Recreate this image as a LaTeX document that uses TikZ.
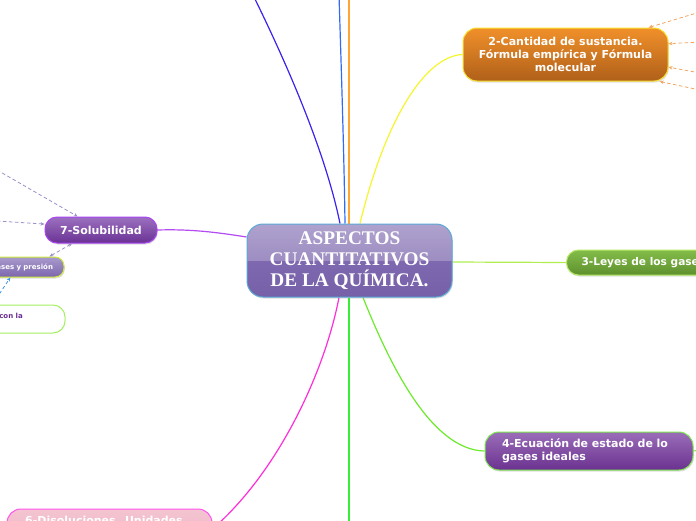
\documentclass[tikz,border=0pt]{standalone}
\usepackage{fontspec}
\setmainfont{Liberation Serif}
\newfontfamily\vb{DejaVu Sans}
\usetikzlibrary{shadows,arrows.meta,backgrounds,calc}
\definecolor{cBorder}{HTML}{5AA9D6}
\definecolor{cLight}{HTML}{AFA2CE}
\definecolor{cLightB}{HTML}{9D8DC2}
\definecolor{cDarkB}{HTML}{7E69B0}
\definecolor{cDark}{HTML}{7660A8}
\pgfdeclareverticalshading{centergloss}{100bp}{color(0bp)=(cDark); color(25bp)=(cDark); color(50bp)=(cDarkB); color(50bp)=(cLightB); color(75bp)=(cLight); color(100bp)=(cLight)}
\definecolor{nTwoTop}{HTML}{F0902A}
\definecolor{nTwoBot}{HTML}{B0601A}
\definecolor{nTwoBd}{HTML}{F8E030}
\definecolor{nThrTop}{HTML}{84BD4A}
\definecolor{nThrBot}{HTML}{5E902E}
\definecolor{nThrBd}{HTML}{B5E860}
\definecolor{nFouTop}{HTML}{9A6DB8}
\definecolor{nFouBot}{HTML}{6B3290}
\definecolor{nFouBd}{HTML}{7EE850}
\definecolor{nSevTop}{HTML}{9C70C0}
\definecolor{nSevBot}{HTML}{6A3294}
\definecolor{nSevBd}{HTML}{A844F0}
\definecolor{gpTop}{HTML}{A89ACB}
\definecolor{gpBot}{HTML}{7C66AD}
\definecolor{gpBd}{HTML}{CDEB3A}
\definecolor{clBd}{HTML}{A4F060}
\definecolor{clText}{HTML}{6B2C91}
\definecolor{nSixTop}{HTML}{F4C4D1}
\definecolor{nSixBot}{HTML}{EDB4C4}
\definecolor{nSixBd}{HTML}{FF55EE}
\definecolor{lBP}{HTML}{3B22EE}
\definecolor{lBlue}{HTML}{2F6AF8}
\definecolor{lOrange}{HTML}{FFA534}
\definecolor{lYellow}{HTML}{F5F530}
\definecolor{lPurple}{HTML}{B44AF2}
\definecolor{lLGreen}{HTML}{B0EE50}
\definecolor{lGreenF}{HTML}{6CEA2C}
\definecolor{lGreenV}{HTML}{36EE36}
\definecolor{lMag}{HTML}{FF2ED8}
\definecolor{dOrange}{HTML}{F3A45E}
\definecolor{dLav}{HTML}{9B90C8}
\definecolor{dBlue}{HTML}{3D95E8}
\tikzset{
  topic/.style={rounded corners=12pt, line width=1pt, inner sep=0pt, text=white,
    font=\vb\bfseries\fontsize{11}{13}\selectfont,
    drop shadow={shadow xshift=0.8pt, shadow yshift=-1.5pt, opacity=0.25}},
  conn/.style={line width=1.2pt},
  dasharrow/.style={dash pattern=on 3.5pt off 2.5pt, line width=0.8pt, -{Stealth[length=4pt,width=3.5pt]}},
}
\begin{document}
\begin{tikzpicture}[x=1pt,y=-1pt]
\path[use as bounding box, clip] (0,0) rectangle (696,520);
% central node
\node[draw=cBorder, line width=1pt, rounded corners=16pt, shade, shading=centergloss,
  minimum width=205pt, minimum height=73pt, inner sep=0pt, align=center, text=white,
  font=\bfseries\fontsize{19.3}{21}\selectfont,
  drop shadow={shadow xshift=0.8pt, shadow yshift=-1.5pt, opacity=0.25}] (c) at (349.5,260.5)
  {ASPECTOS\\CUANTITATIVOS\\DE LA QUÍMICA.};
% topics
\node[topic, draw=nTwoBd, top color=nTwoTop, bottom color=nTwoBot, minimum width=205pt,
  minimum height=53pt, rounded corners=14pt, align=center] (n2) at (565.5,54.5)
  {2-Cantidad de sustancia.\\Fórmula empírica y Fórmula\\molecular};
\node[topic, draw=nThrBd, top color=nThrTop, bottom color=nThrBot, minimum height=25pt,
  anchor=west, inner xsep=15pt, font=\vb\bfseries\fontsize{10.6}{13}\selectfont] (n3) at (566,262.5) {3-Leyes de los gases};
\node[topic, draw=nFouBd, top color=nFouTop, bottom color=nFouBot, minimum width=208pt,
  minimum height=38pt, rounded corners=14pt, text width=174pt, align=left] (n4) at (589,451)
  {4-Ecuación de estado de lo\\gases ideales};
\node[topic, draw=nSevBd, top color=nSevTop, bottom color=nSevBot, minimum width=112pt,
  minimum height=26pt] (n7) at (101,230) {7-Solubilidad};
\node[topic, draw=gpBd, top color=gpTop, bottom color=gpBot, minimum width=120pt,
  minimum height=20pt, rounded corners=9pt, text width=98pt, align=right,
  font=\vb\bfseries\fontsize{7}{8}\selectfont] (gp) at (4,267) {gases y presión};
\node[draw=clBd, line width=1pt, fill=white, rounded corners=12pt, minimum width=165pt,
  minimum height=28pt] (cl) at (-17.5,319) {};
\node[anchor=base east, inner sep=0pt, text=clText, font=\vb\bfseries\fontsize{7}{8}\selectfont]
  (clt) at (23,318) {con la};
\node[topic, draw=nSixBd, top color=nSixTop, bottom color=nSixBot, minimum width=205pt,
  minimum height=40pt, rounded corners=14pt] (n6) at (109.5,529) {};
\node[anchor=base west, inner sep=0pt, text=white, font=\vb\bfseries\fontsize{11}{13}\selectfont]
  (n6t) at (25,524.5) {6-Disoluciones. Unidades};
% free ends
\coordinate (e1) at (253,-5);
\coordinate (e2) at (339,-5);
\coordinate (e3) at (349,-5);
\coordinate (e4) at (349,525);
\coordinate (e5) at (702,450);
\coordinate (o1) at (700,12);
\coordinate (o2) at (700,42);
\coordinate (o3) at (700,73);
\coordinate (o4) at (700,90);
\coordinate (l1) at (-3,170);
\coordinate (l2) at (-3,221);
\coordinate (b1) at (-4,299);
\begin{pgfonlayer}{background}
\clip (0,0) rectangle (696,520);
\draw[conn, lBP] ($(c.north)+(-9.5,0)$) .. controls (325,150) and (285,60) .. (e1);
\draw[conn, lBlue] ($(c.north)+(-4.5,0)$) .. controls (344,150) and (341,60) .. (e2);
\draw[conn, lOrange] ($(c.north)+(-0.5,0)$) -- (e3);
\draw[conn, lYellow] ($(c.north)+(10.5,0)$) .. controls (385,120) and (425,56) .. (n2.west);
\draw[conn, lPurple] ($(c.west)+(0,-23.5)$) .. controls (215,232) and (190,229) .. (n7.east);
\draw[conn, lLGreen] ($(c.east)+(0,1.5)$) -- (n3.west);
\draw[conn, lGreenF] ($(c.south)+(13.5,0)$) .. controls (388,360) and (430,450) .. (n4.west);
\draw[conn, lGreenV] ($(c.south)+(-0.5,0)$) -- (e4);
\draw[conn, lMag] ($(c.south)+(-10.5,0)$) .. controls (325,370) and (280,470) .. (n6.east);
\draw[line width=1pt, lGreenF] (n4.east) -- (e5);
\end{pgfonlayer}
% dashed arrows
\draw[dasharrow, dOrange] (o1) -- (n2.18);
\draw[dasharrow, dOrange] (o2) -- (n2.6);
\draw[dasharrow, dOrange] (o3) -- (n2.-7.5);
\draw[dasharrow, dOrange] (o4) -- (n2.-16);
\draw[dasharrow, dLav] (l1) -- (n7.150);
\draw[dasharrow, dLav] (l2) -- (n7.174);
\draw[dasharrow, dLav, {Stealth[length=4pt,width=3.5pt]}-{Stealth[length=4pt,width=3.5pt]}] (gp.13) -- (n7.205);
\draw[dasharrow, dBlue] (b1) -- (gp.-59);
\end{tikzpicture}
\end{document}
